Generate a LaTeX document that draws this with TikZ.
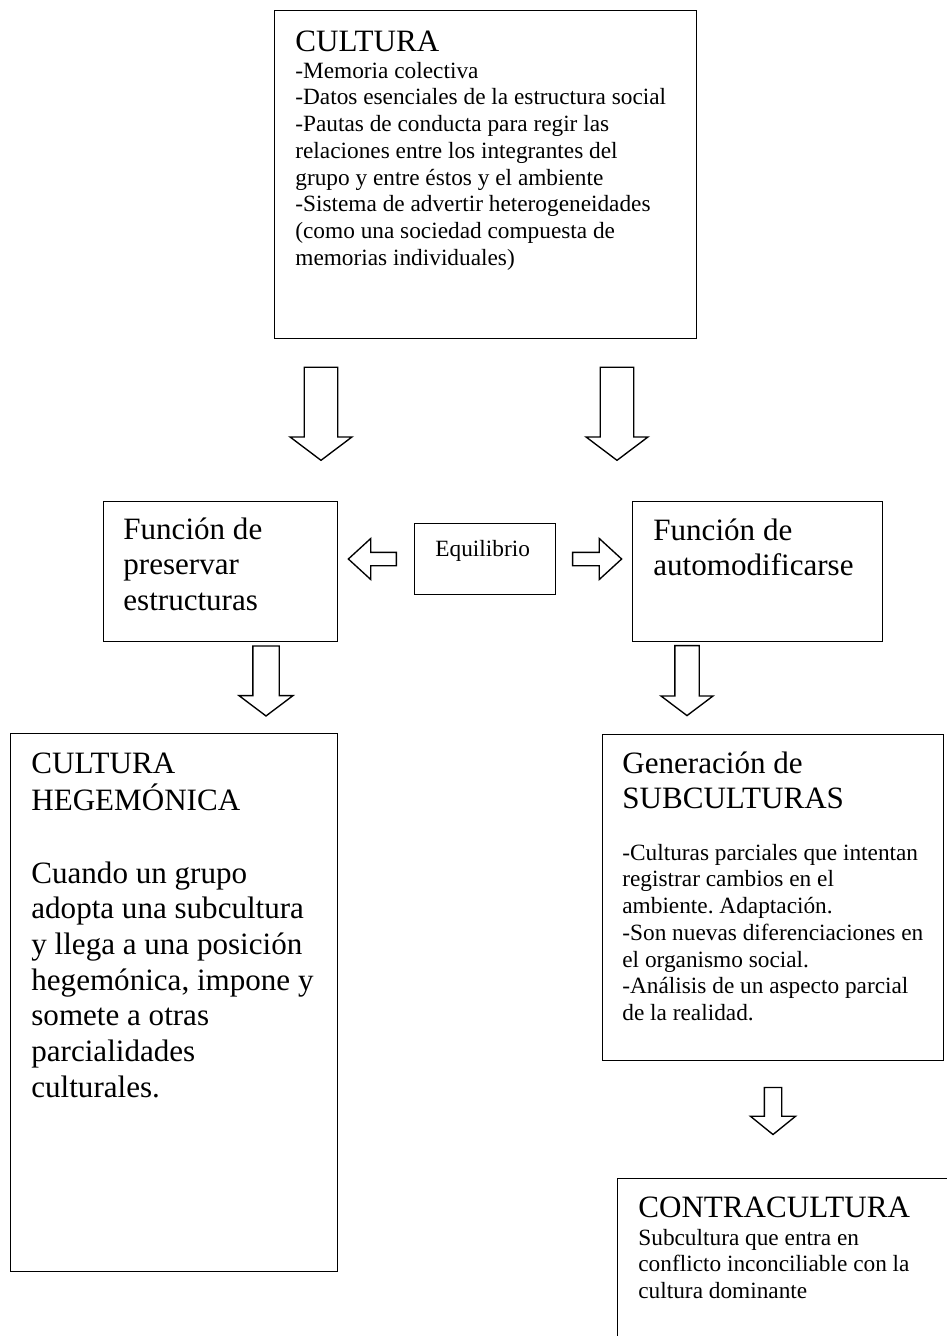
\documentclass[tikz,border=0pt]{standalone}
\usepackage{fontspec}
\setmainfont{Liberation Serif}
\usetikzlibrary{shapes.arrows}
\frenchspacing

\def\px{0.515pt}
\newcommand{\boxlines}[1]{\begin{tabular}[t]{@{}l@{}}#1\end{tabular}}

\begin{document}
\begin{tikzpicture}[x=0.515pt, y=-0.515pt,
    box/.style={draw, line width=0.7pt, anchor=north west, inner sep=0pt},
    big/.style={anchor=base west, inner sep=0pt, font=\fontsize{16}{18.4}\selectfont},
    small/.style={anchor=base west, inner sep=0pt, font=\fontsize{12}{13.8}\selectfont},
    blk/.style={single arrow, draw, line width=0.7pt, single arrow tip angle=106}]

    \useasboundingbox (0,0) rectangle (947,1336);
    \clip (0,0) rectangle (947,1336);

    % boxes
    \node[box, minimum width=422*\px, minimum height=328*\px] (cult) at (274,10) {};
    \node[box, minimum width=234*\px, minimum height=140*\px] (pres) at (103,501) {};
    \node[box, minimum width=141*\px, minimum height=71*\px] (equil) at (414,523) {};
    \node[box, minimum width=250*\px, minimum height=140*\px] (auto) at (632,501) {};
    \node[box, minimum width=327*\px, minimum height=538*\px] (hege) at (10,733) {};
    \node[box, minimum width=341*\px, minimum height=326*\px] (subc) at (602,734) {};
    \node[box, minimum width=400*\px, minimum height=220*\px] (contra) at (617,1178) {};

    % texts
    \node[big] (cultT) at (295,51) {CULTURA};
    \node[small] (cultB) at (295,78) {\boxlines{-Memoria colectiva\\-Datos esenciales de la estructura social\\-Pautas de conducta para regir las\\relaciones entre los integrantes del\\grupo y entre éstos y el ambiente\\-Sistema de advertir heterogeneidades\\(como una sociedad compuesta de\\memorias individuales)}};

    \node[big] (presT) at (123,539) {\boxlines{Función de\\preservar\\estructuras}};
    \node[small] (equilT) at (435,556) {Equilibrio};
    \node[big] (autoT) at (653,540) {\boxlines{Función de\\automodificarse}};

    \node[big] (hegeT) at (31,773) {\boxlines{CULTURA\\HEGEMÓNICA}};
    \node[big] (hegeB) at (31,883) {\boxlines{Cuando un grupo\\adopta una subcultura\\y llega a una posición\\hegemónica, impone y\\somete a otras\\parcialidades\\culturales.}};

    \node[big] (subcT) at (622,773) {\boxlines{Generación de\\SUBCULTURAS}};
    \node[small] (subcB) at (622,860) {\boxlines{-Culturas parciales que intentan\\registrar cambios en el\\ambiente. Adaptación.\\-Son nuevas diferenciaciones en\\el organismo social.\\-Análisis de un aspecto parcial\\de la realidad.}};

    \node[big] (contraT) at (638,1217) {CONTRACULTURA};
    \node[small] (contraB) at (638,1245) {\boxlines{Subcultura que entra en\\conflicto inconciliable con la\\cultura dominante}};

    % block arrows
    \node[blk, rotate=-90, minimum height=93*\px, minimum width=62*\px, inner sep=15.5*\px] (a1) at (321,407.5) {};
    \node[blk, rotate=-90, minimum height=93*\px, minimum width=62*\px, inner sep=15.5*\px] (a2) at (617,407.5) {};
    \node[blk, rotate=180, single arrow tip angle=85, minimum height=48*\px, minimum width=24*\px, inner sep=6*\px] (a3) at (376,559) {};
    \node[blk, single arrow tip angle=85, minimum height=49*\px, minimum width=24*\px, inner sep=6*\px] (a4) at (593.5,559) {};
    \node[blk, rotate=-90, minimum height=70*\px, minimum width=48*\px, inner sep=12.5*\px] (a5) at (266,676) {};
    \node[blk, rotate=-90, minimum height=70*\px, minimum width=48*\px, inner sep=11.5*\px] (a6) at (687,676) {};
    \node[blk, rotate=-90, single arrow tip angle=102, minimum height=47*\px, minimum width=32*\px, inner sep=8*\px] (a7) at (773,1107.5) {};

\end{tikzpicture}
\end{document}
